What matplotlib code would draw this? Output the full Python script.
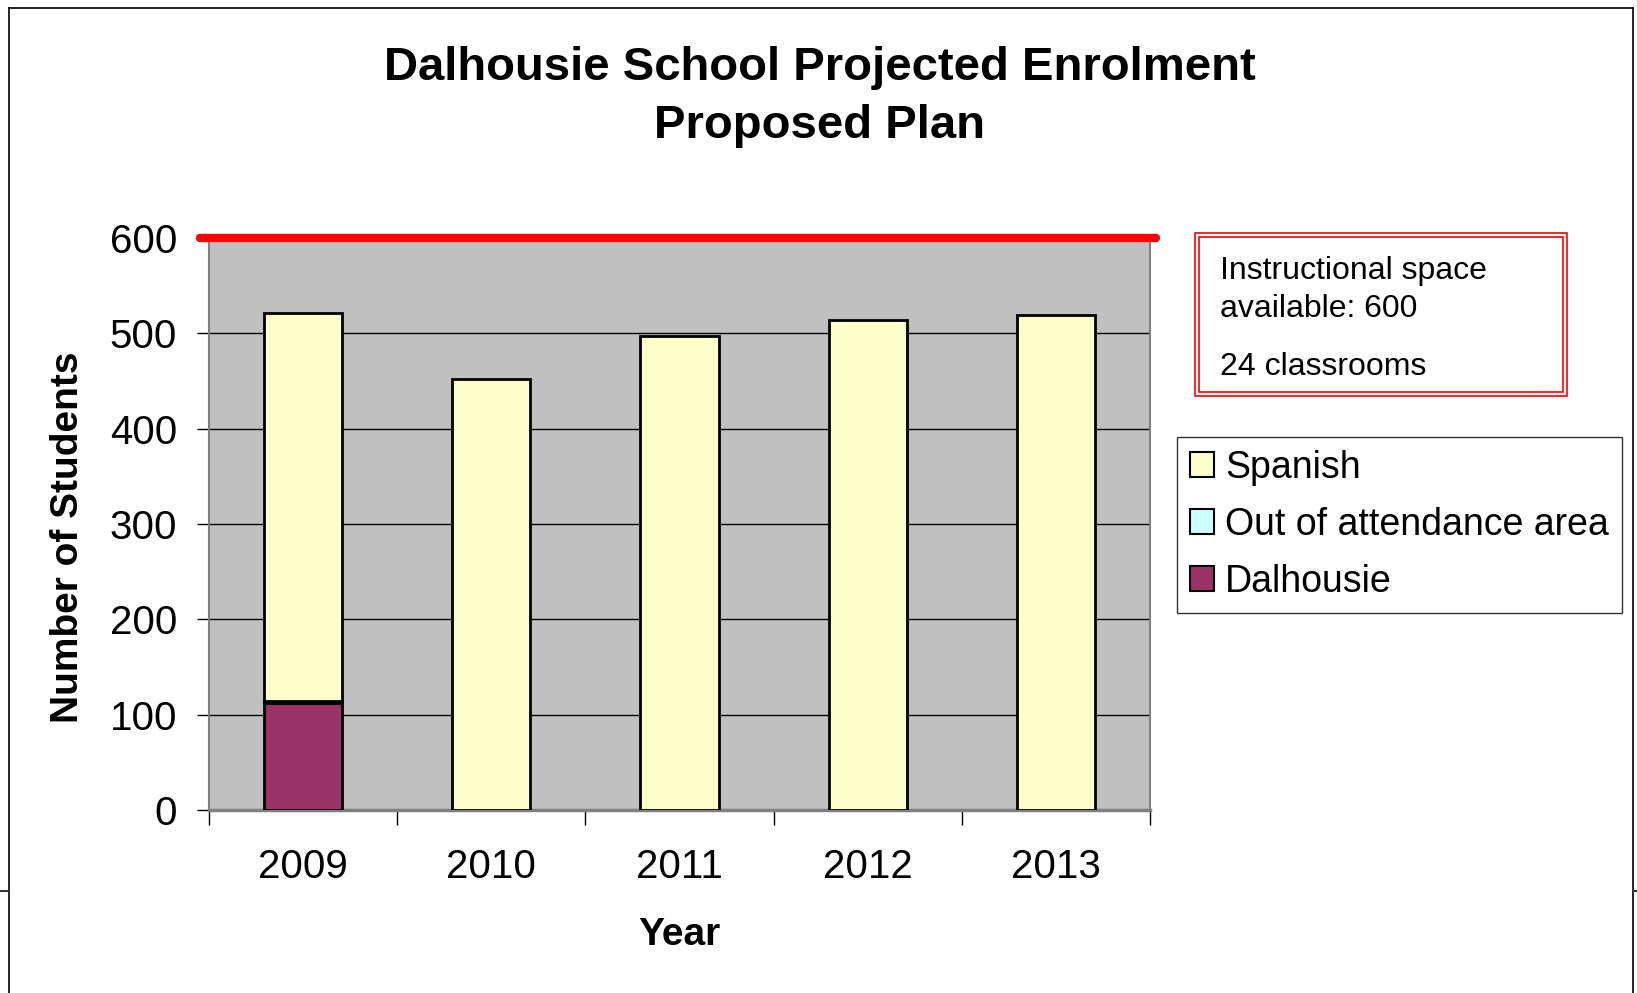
import matplotlib
matplotlib.use("Agg")
import matplotlib.pyplot as plt
from matplotlib.patches import Rectangle, Patch
import numpy as np

plt.rcParams['font.family'] = ['Liberation Sans', 'DejaVu Sans']

years = ["2009", "2010", "2011", "2012", "2013"]
dalhousie = [112, 0, 0, 0, 0]
out_of_area = [2, 0, 0, 0, 0]
spanish = [407, 452, 497, 514, 519]
capacity = 600
yticks = [0, 100, 200, 300, 400, 500, 600]

c_span = "#FFFFCC"
c_out = "#CCFFFF"
c_dal = "#993366"

W, H = 1637, 993
fig = plt.figure(figsize=(W / 100, H / 100), dpi=100)
fig.patch.set_facecolor("white")

ax = fig.add_axes([209 / W, 1 - 810 / H, (1150 - 209) / W, (810 - 238) / H])
ax.set_facecolor("#C0C0C0")
x = np.arange(len(years))
bw = 0.415
d = np.array(dalhousie)
o = np.array(out_of_area)
s = np.array(spanish)
ax.bar(x, d, bw, color=c_dal, edgecolor="black", linewidth=2, zorder=3)
ax.bar(x, o, bw, bottom=d, color=c_out, edgecolor="black", linewidth=2, zorder=3)
ax.bar(x, s, bw, bottom=d + o, color=c_span, edgecolor="black", linewidth=2, zorder=3)

ax.set_xlim(-0.5, len(years) - 0.5)
ax.set_ylim(0, 600)
ax.set_yticks(yticks)
ax.yaxis.grid(True, color="black", linewidth=1, zorder=1)
ax.set_axisbelow(True)
ax.tick_params(axis="y", labelsize=29, length=9, width=1, pad=14, color="black")
ax.set_xticks(x)
ax.set_xticklabels(years)
ax.set_xticks(np.arange(len(years) + 1) - 0.5, minor=True)
ax.tick_params(axis="x", which="major", length=0, labelsize=29, pad=27)
ax.tick_params(axis="x", which="minor", length=11, width=1, color="black")
for sp in ax.spines.values():
    sp.set_color("#808080")
    sp.set_linewidth(1.5)
ax.spines["bottom"].set_linewidth(2.5)

ax.plot([-0.55, len(years) - 0.47], [capacity, capacity], color="red", linewidth=6,
        solid_capstyle="round", clip_on=False, zorder=5)

fig.text(68 / W, 1 - 537 / H, "Number of Students", rotation=90, ha="center", va="center",
         fontsize=28, fontweight="bold")
ax.set_xlabel("Year", fontsize=28, fontweight="bold", labelpad=23)

fig.text(820 / W, 1 - 68 / H, "Dalhousie School Projected Enrolment", ha="center", va="center",
         fontsize=34, fontweight="bold")
fig.text(820 / W, 1 - 126 / H, "Proposed Plan", ha="center", va="center",
         fontsize=34, fontweight="bold")

# annotation box with double red border
fig.add_artist(Rectangle((1195 / W, 1 - 396 / H), (1567 - 1195) / W, (396 - 233) / H,
                         transform=fig.transFigure, fill=False, edgecolor="red", linewidth=1.2))
fig.add_artist(Rectangle((1199 / W, 1 - 392 / H), (1563 - 1199) / W, (392 - 237) / H,
                         transform=fig.transFigure, fill=False, edgecolor="red", linewidth=1.2))
fig.text(1220 / W, 1 - 279 / H, "Instructional space", ha="left", va="baseline", fontsize=23)
fig.text(1220 / W, 1 - 317 / H, "available: 600", ha="left", va="baseline", fontsize=23)
fig.text(1220 / W, 1 - 375 / H, "24 classrooms", ha="left", va="baseline", fontsize=23)

# legend
handles = [Patch(facecolor=c_span, edgecolor="black", linewidth=1.5, label="Spanish"),
           Patch(facecolor=c_out, edgecolor="black", linewidth=1.5, label="Out of attendance area"),
           Patch(facecolor=c_dal, edgecolor="black", linewidth=1.5, label="Dalhousie")]
leg = fig.legend(handles=handles, loc="upper left", bbox_to_anchor=(1177 / W, 1 - 437 / H),
                 fontsize=27, frameon=True, fancybox=False, edgecolor="black",
                 handlelength=0.65, handleheight=0.65, handletextpad=0.3,
                 labelspacing=0.56, borderpad=0.34, borderaxespad=0)
leg.get_frame().set_linewidth(1)

# outer frame lines
fig.add_artist(plt.Line2D([9 / W, 9 / W], [0, 1 - 8 / H], transform=fig.transFigure, color="black", linewidth=1.2))
fig.add_artist(plt.Line2D([9 / W, 1633 / W], [1 - 8 / H, 1 - 8 / H], transform=fig.transFigure, color="black", linewidth=1.2))
fig.add_artist(plt.Line2D([1633 / W, 1633 / W], [0, 1 - 8 / H], transform=fig.transFigure, color="black", linewidth=1.2))
fig.add_artist(plt.Line2D([0, 9 / W], [1 - 891 / H, 1 - 891 / H], transform=fig.transFigure, color="#333344", linewidth=1.5))
fig.add_artist(plt.Line2D([1633 / W, 1], [1 - 891 / H, 1 - 891 / H], transform=fig.transFigure, color="#333344", linewidth=1.5))

fig.savefig("out.png", dpi=100)
